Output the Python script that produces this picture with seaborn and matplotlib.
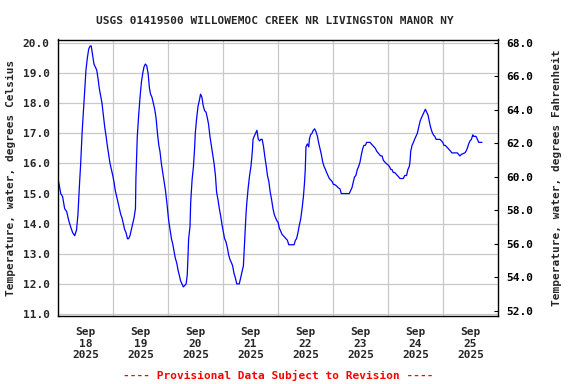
#!/usr/bin/env python
'''
USGS water temperature hydrograph, Willowemoc Creek, Sep 18-25 2025.
'''

import matplotlib
matplotlib.use('Agg')
import matplotlib.pyplot as plt
import matplotlib.ticker as mticker
import pandas as pd
import seaborn as sns

title = 'USGS 01419500 WILLOWEMOC CREEK NR LIVINGSTON MANOR NY'
footer = '---- Provisional Data Subject to Revision ----'
ylabel_c = 'Temperature, water, degrees Celsius'
ylabel_f = 'Temperature, water, degrees Fahrenheit'
start = pd.Timestamp('2025-09-18 00:00')

# readings, hours after Sep 18 00:00 (two days per block)
hours_18_19 = [0.0, 1.2, 2.0, 2.9, 3.8, 4.7, 5.5, 6.4, 7.3, 8.1, 8.7, 9.3, 9.9, 10.5, 11.1,
               11.6, 12.2, 12.8, 13.4, 14.0, 14.5, 15.1, 15.7, 16.3, 16.9, 17.5, 18.0, 18.6, 19.2, 19.8,
               20.4, 21.0, 21.5, 22.1, 22.7, 23.3, 23.9, 24.4, 25.0, 25.6, 26.2, 26.8, 27.4, 27.9, 28.5,
               29.1, 29.7, 30.3, 30.8, 31.4, 32.0, 32.6, 33.2, 33.8, 34.0, 34.6, 35.2, 35.8, 36.4, 37.0,
               37.5, 38.1, 38.7, 39.3, 39.9, 40.4, 41.0, 41.6, 42.2, 42.8, 43.4, 44.0, 44.5, 45.1, 45.7,
               46.3, 46.9]
temps_18_19 = [15.5, 15.0, 14.9, 14.5, 14.4, 14.1, 13.9, 13.7, 13.6, 13.8, 14.3, 15.2, 16.0, 17.0, 17.75,
               18.35, 19.1, 19.5, 19.8, 19.9, 19.9, 19.6, 19.3, 19.2, 19.1, 18.8, 18.5, 18.25, 18.0, 17.6,
               17.2, 16.9, 16.6, 16.3, 16.0, 15.8, 15.6, 15.4, 15.1, 14.9, 14.7, 14.5, 14.3, 14.2, 14.0,
               13.8, 13.7, 13.5, 13.5, 13.6, 13.8, 14.0, 14.2, 14.5, 15.5, 16.9, 17.6, 18.2, 18.7, 19.0,
               19.2, 19.3, 19.25, 19.0, 18.5, 18.3, 18.2, 18.0, 17.8, 17.5, 17.0, 16.6, 16.4, 16.0, 15.7,
               15.4, 15.1]

hours_20_21 = [47.5, 48.3, 48.9, 49.5, 50.0, 50.6, 51.2, 51.8, 52.4, 52.9, 53.5, 54.1, 54.7, 55.3, 55.9,
               56.4, 56.7, 57.0, 57.6, 57.9, 58.5, 59.1, 59.6, 59.9, 60.5, 61.1, 61.7, 62.2, 62.8, 63.4,
               64.0, 64.6, 65.2, 65.7, 66.3, 66.9, 67.5, 68.1, 68.7, 69.2, 69.8, 70.4, 71.0, 71.6, 72.2,
               72.7, 73.3, 73.9, 74.5, 75.1, 75.7, 76.2, 76.8, 77.4, 78.0, 78.6, 79.1, 79.7, 80.3, 80.9,
               81.2, 81.8, 82.1, 82.4, 83.0, 83.6, 84.2, 84.8, 85.1, 85.6, 86.2, 86.8, 87.4, 88.0, 88.5,
               89.1, 89.7, 90.3, 90.9, 91.4, 92.0, 92.6, 93.2, 93.8, 94.4, 94.9, 95.5]
temps_20_21 = [14.7, 14.1, 13.8, 13.5, 13.35, 13.1, 12.85, 12.7, 12.45, 12.3, 12.1, 12.0, 11.9, 11.95, 12.0,
               12.3, 12.85, 13.5, 13.9, 14.7, 15.45, 15.9, 16.5, 17.0, 17.5, 17.9, 18.1, 18.3, 18.2, 17.9,
               17.75, 17.7, 17.5, 17.3, 16.9, 16.6, 16.3, 16.0, 15.6, 15.05, 14.8, 14.5, 14.25, 13.95, 13.7,
               13.5, 13.4, 13.2, 12.95, 12.8, 12.7, 12.6, 12.35, 12.2, 12.0, 12.0, 12.0, 12.2, 12.4, 12.6,
               13.05, 13.95, 14.4, 14.7, 15.2, 15.6, 15.9, 16.4, 16.8, 16.9, 17.0, 17.1, 16.8, 16.75, 16.8,
               16.8, 16.55, 16.2, 15.9, 15.6, 15.4, 15.05, 14.8, 14.5, 14.3, 14.2, 14.1]

hours_22_23 = [96.0, 96.6, 97.2, 97.7, 98.3, 98.9, 99.5, 100.1, 100.7, 101.8, 103.0, 103.6, 104.1, 104.7, 105.3,
               105.9, 106.5, 107.1, 107.6, 107.9, 108.2, 108.8, 109.1, 109.4, 109.7, 110.2, 110.8, 111.4, 112.0, 112.6,
               113.2, 113.7, 114.3, 114.9, 115.5, 116.1, 116.7, 117.2, 117.8, 118.4, 119.0, 119.6, 120.2, 120.7, 121.6,
               122.2, 123.1, 123.6, 125.1, 127.1, 127.7, 128.3, 128.9, 129.4, 130.0, 130.6, 131.2, 131.8, 132.4, 133.0,
               133.5, 134.1, 134.7, 135.3, 136.2, 136.7, 137.3, 137.9, 138.5, 139.1, 139.7, 140.2, 140.8, 141.4, 142.0,
               142.6, 143.2]
temps_22_23 = [14.05, 13.85, 13.75, 13.65, 13.6, 13.55, 13.5, 13.45, 13.3, 13.3, 13.3, 13.45, 13.5, 13.7, 13.95,
               14.15, 14.5, 14.9, 15.4, 15.8, 16.55, 16.65, 16.6, 16.55, 16.8, 16.95, 17.0, 17.1, 17.15, 17.05,
               16.9, 16.7, 16.5, 16.3, 16.05, 15.9, 15.8, 15.7, 15.6, 15.5, 15.45, 15.4, 15.3, 15.3, 15.25,
               15.2, 15.15, 15.0, 15.0, 15.0, 15.1, 15.2, 15.4, 15.55, 15.6, 15.8, 15.9, 16.05, 16.3, 16.5,
               16.6, 16.6, 16.7, 16.7, 16.7, 16.65, 16.6, 16.55, 16.5, 16.4, 16.35, 16.3, 16.25, 16.25, 16.1,
               16.05, 16.0]

hours_24_25 = [144.0, 144.6, 145.2, 145.7, 146.3, 146.9, 147.5, 148.1, 148.7, 149.2, 150.7, 151.3, 152.1, 152.7, 153.3,
               153.6, 153.9, 154.5, 155.1, 155.6, 156.2, 156.8, 157.4, 158.0, 158.5, 159.1, 159.7, 160.3, 160.9, 161.5,
               162.0, 162.6, 163.2, 163.8, 164.4, 165.0, 166.7, 167.3, 167.9, 168.4, 169.0, 169.6, 170.2, 170.8, 171.4,
               171.9, 174.3, 174.8, 175.4, 176.0, 177.5, 178.0, 178.6, 179.2, 179.8, 180.4, 181.0, 181.3, 182.4, 183.0,
               183.6, 185.0]
temps_24_25 = [15.95, 15.9, 15.8, 15.8, 15.7, 15.7, 15.65, 15.6, 15.55, 15.5, 15.5, 15.6, 15.6, 15.8, 15.9,
               16.05, 16.4, 16.6, 16.7, 16.8, 16.9, 17.0, 17.2, 17.4, 17.5, 17.6, 17.7, 17.8, 17.7, 17.6,
               17.4, 17.2, 17.05, 16.95, 16.9, 16.8, 16.8, 16.75, 16.7, 16.6, 16.6, 16.55, 16.5, 16.45, 16.4,
               16.35, 16.35, 16.3, 16.25, 16.3, 16.35, 16.4, 16.5, 16.65, 16.75, 16.8, 16.95, 16.9, 16.9, 16.8,
               16.7, 16.7]

day_labels = ['Sep\n18\n2025', 'Sep\n19\n2025', 'Sep\n20\n2025', 'Sep\n21\n2025',
              'Sep\n22\n2025', 'Sep\n23\n2025', 'Sep\n24\n2025', 'Sep\n25\n2025']
c_ticks = [11, 12, 13, 14, 15, 16, 17, 18, 19, 20]
f_ticks = [52, 54, 56, 58, 60, 62, 64, 66, 68]

df = pd.DataFrame({
    'hours': hours_18_19 + hours_20_21 + hours_22_23 + hours_24_25,
    'temp': temps_18_19 + temps_20_21 + temps_22_23 + temps_24_25,
})
df['time'] = start + pd.to_timedelta(df['hours'], unit='h')

sns.set_style('white')
plt.rcParams['font.family'] = ['DejaVu Sans Mono']
plt.rcParams['font.weight'] = 'bold'
plt.rcParams['font.size'] = 8

fig = plt.figure(figsize=(5.76, 3.84), dpi=100)
ax = fig.add_axes([58/576, 1 - 316/384, 440/576, 276.5/384])

sns.lineplot(data=df, x='time', y='temp', ax=ax, color='#0000ff', linewidth=0.9)

ymin, ymax = 10.934, 20.116
ax.set_ylim(ymin, ymax)
ax.set_xlim(start, start + pd.Timedelta(days=8))

# midnight grid lines, labels at noon
midnights = [start + pd.Timedelta(days=i) for i in range(1, 8)]
noons = [start + pd.Timedelta(days=i, hours=12) for i in range(8)]
ax.set_xticks(midnights)
ax.set_xticklabels([])
ax.set_xticks(noons, minor=True)
ax.set_xticklabels(day_labels, minor=True, fontweight='bold')
ax.tick_params(axis='x', which='both', length=0, pad=8)

ax.set_yticks(c_ticks)
ax.yaxis.set_major_formatter(mticker.FormatStrFormatter('%.1f'))
ax.tick_params(axis='y', length=0, pad=6)
ax.grid(True, which='major', color='#c8c8c8', linewidth=0.9)
ax.set_xlabel('')
ax.set_ylabel(ylabel_c, fontweight='bold')
ax.yaxis.set_label_coords(-0.095, 0.5)

for s in ax.spines.values():
    s.set_color('black')
    s.set_linewidth(1.0)

# Fahrenheit axis
ax2 = ax.twinx()
ax2.set_ylim(ymin * 9 / 5 + 32, ymax * 9 / 5 + 32)
ax2.set_yticks(f_ticks)
ax2.yaxis.set_major_formatter(mticker.FormatStrFormatter('%.1f'))
ax2.tick_params(axis='y', direction='in', length=3, width=0.8, pad=6, colors='black')
ax2.set_ylabel(ylabel_f, fontweight='bold')
ax2.yaxis.set_label_coords(1.122, 0.5)
for s in ax2.spines.values():
    s.set_visible(False)

fig.text(275/576, 1 - 21/384, title, ha='center', va='center', fontweight='bold')
fig.text(278/576, 1 - 375/384, footer, ha='center', va='center', color='#ff0000', fontweight='bold')

fig.savefig('out.png', dpi=100)
plt.close(fig)
